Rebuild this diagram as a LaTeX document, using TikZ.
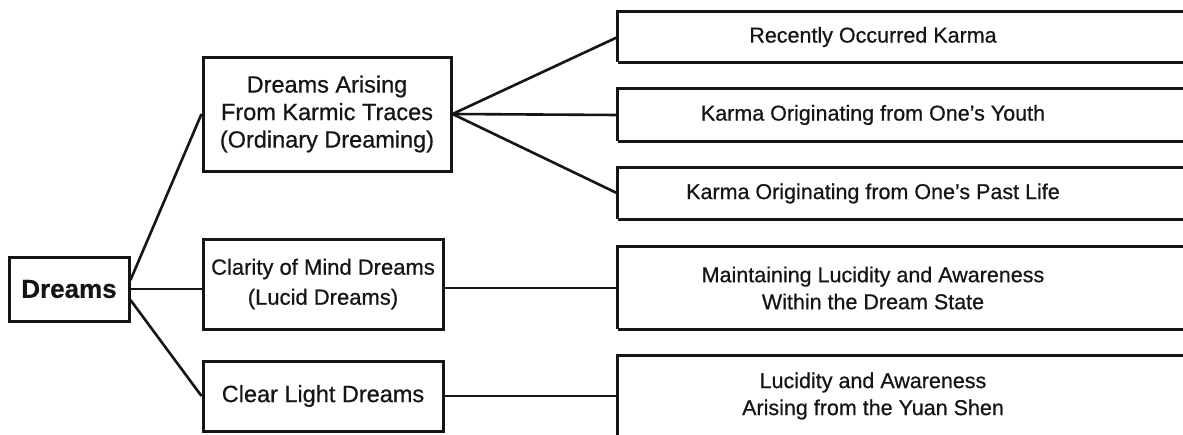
\documentclass[tikz,border=0pt]{standalone}
\usepackage{fontspec}
\setmainfont[FakeBold=0.6]{Liberation Sans}
\definecolor{ink}{HTML}{151515}
\begin{document}
\begin{tikzpicture}[x=1pt,y=-1pt,
  box/.style={draw=ink, line width=3pt, inner sep=0pt, align=center, text=ink},
  rtext/.style={inner sep=0pt, align=center, text=ink, font=\fontsize{21.5}{27}\selectfont},
  boxline/.style={draw=ink, line width=3pt},
  conn/.style={draw=ink, line width=2.6pt},
  midfont/.style={font=\fontsize{23.5}{27.5}\selectfont}]
\useasboundingbox (0,0) rectangle (1183,434);
\clip (0,0) rectangle (1183,434);
\fill[white] (0,0) rectangle (1183,434);

% root
\node[box, minimum width=120pt, minimum height=64pt, font=\fontsize{26}{30}\selectfont\bfseries] (d) at (69,289) {Dreams};

% middle column
\node[box, midfont, minimum width=248pt, minimum height=114pt] (b1) at (327,114) {Dreams Arising\\From Karmic Traces\\(Ordinary Dreaming)};
\node[box, font=\fontsize{22}{30}\selectfont, minimum width=240pt, minimum height=90pt] (b2) at (323,284) {Clarity of Mind Dreams\\(Lucid Dreams)};
\node[box, midfont, minimum width=240pt, minimum height=70pt] (b3) at (323,396) {Clear Light Dreams};

% right column (boxes run past the right edge)
\node[rtext, minimum width=510pt, minimum height=50pt] (r1) at (873,37) {Recently Occurred Karma};
\node[rtext, minimum width=510pt, minimum height=52pt] (r2) at (873,115) {Karma Originating from One's Youth};
\node[rtext, minimum width=510pt, minimum height=51pt] (r3) at (873,193.5) {Karma Originating from One's Past Life};
\node[rtext, minimum width=510pt, minimum height=82pt] (r4) at (873,288) {Maintaining Lucidity and Awareness\\Within the Dream State};
\node[rtext, minimum width=510pt, minimum height=80pt] (r5) at (873,396) {Lucidity and Awareness\\Arising from the Yuan Shen};

\foreach \r in {r1,r2,r3,r4,r5}{
  \draw[boxline] (\r.south west) -- (\r.north west) -- ++(700,0);
  \draw[boxline] (\r.south west) -- ++(700,0);
}

% connectors
\draw[conn] ([yshift=9pt]d.east) -- (b1.west);
\draw[conn] (d.east) -- (d.east -| b2.west);
\draw[conn] ([yshift=-11pt]d.east) -- (b3.west);
\draw[conn] (b1.east) -- (r1.west);
\draw[conn] (b1.east) -- (r2.west);
\draw[conn] (b1.east) -- (r3.west);
\draw[conn] (r4.west -| b2.east) -- (r4.west);
\draw[conn] (b3.east) -- (b3.east -| r5.west);
\end{tikzpicture}
\end{document}
